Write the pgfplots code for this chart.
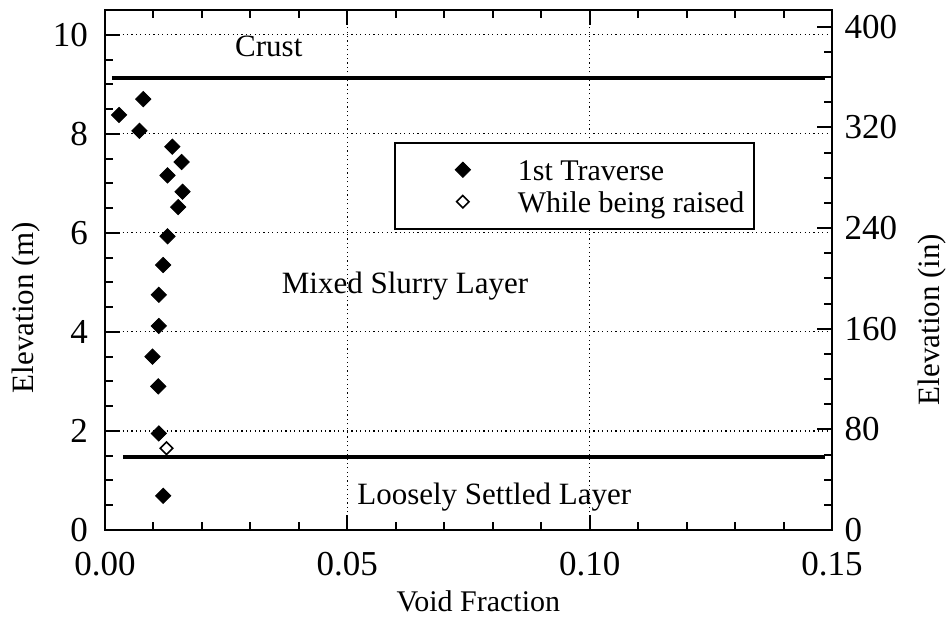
\documentclass[border=0pt]{standalone}
\usepackage{fontspec}
\setmainfont{Liberation Serif}
\usepackage{pgfplots}
\pgfplotsset{compat=1.18}

\pgfplotsset{
  voidaxis/.style={
    width=363.5pt, height=260pt, scale only axis,
    at={(0pt,0pt)}, anchor=south west,
    ymin=0, 
    axis line style={line width=1pt},
    every tick/.style={black, line width=1pt},
    tick align=inside,
    major tick length=7.5pt, minor tick length=4pt,
    /pgf/number format/assume math mode=true,
    tick label style={font=\fontsize{17.5}{20}\selectfont},
    label style={font=\fontsize{15.5}{18}\selectfont},
  }
}

\begin{document}
\begin{tikzpicture}
\useasboundingbox (-52.5pt,-47pt) rectangle (420.5pt,265pt);

% left axis: metres
\begin{axis}[voidaxis,
    xmin=0, xmax=0.15, ymax=10.5,
    xtick={0,0.05,0.10,0.15},
    xticklabels={0.00,0.05,0.10,0.15},
    minor x tick num=4,
    ytick={0,2,4,6,8,10},
    minor y tick num=3,
    xtick pos=both, ytick pos=left,
    xticklabel style={yshift=-7.5pt},
    yticklabel style={xshift=-5pt},
    grid=major,
    major grid style={black, line width=0.6pt, dash pattern=on 0.6pt off 1.6pt},
    xlabel={Void Fraction},
    xlabel style={at={(axis description cs:0.5135,0)}, anchor=base, yshift=-41pt,
      font=\fontsize{15}{18}\selectfont},
    ylabel={Elevation (m)},
    ylabel style={at={(axis description cs:-0.108,0.428)}, anchor=center},
    legend style={at={(axis cs:0.0596,7.84)}, anchor=north west,
      draw=black, line width=1pt, inner xsep=5pt, inner ysep=6pt,
      row sep=1pt, column sep=0pt,
      font=\fontsize{15}{18}\selectfont,
      nodes={inner sep=0pt, text height=13pt, text depth=2pt}},
    legend cell align=left,
    legend image code/.code={
      \path[draw=none] (-29pt,0pt) -- (27.5pt,0pt);
      \draw[#1, only marks] plot coordinates {(0pt,0pt)};
    },
  ]

  \addplot[only marks, mark=square*, mark size=2.7pt,
    mark options={rotate=45, fill=black, draw=black, line width=0.4pt}]
    coordinates {
      (0.0029,8.38) (0.0079,8.70) (0.0071,8.06)
      (0.0139,7.74) (0.0158,7.43) (0.0129,7.16)
      (0.0160,6.83) (0.0151,6.52) (0.0129,5.93)
      (0.0120,5.35) (0.0111,4.75) (0.0111,4.12)
      (0.0098,3.50) (0.0110,2.90) (0.0111,1.95)
      (0.0120,0.69)
    };
  \addlegendentry{1st Traverse}

  \addplot[only marks, mark=square, mark size=2.2pt,
    mark options={rotate=45, fill=white, draw=black, line width=0.8pt}]
    coordinates {(0.0127,1.65)};
  \addlegendentry{While being raised}

  % layer boundaries
  \addplot[black, line width=2pt, forget plot] coordinates {(0.0014,9.12) (0.1485,9.12)};
  \addplot[black, line width=2pt, forget plot] coordinates {(0.0037,1.48) (0.1485,1.48)};

  \node[font=\fontsize{15.5}{18}\selectfont] at (axis cs:0.0338,9.76) {Crust};
  \node[font=\fontsize{15.5}{18}\selectfont] at (axis cs:0.0619,4.93) {Mixed Slurry Layer};
  \node[font=\fontsize{15.5}{18}\selectfont] at (axis cs:0.0803,0.67) {Loosely Settled Layer};
\end{axis}

% right axis: inches
\begin{axis}[voidaxis,
    xmin=0, xmax=0.15, ymax=413.39,
    axis x line=none, axis y line*=right,
    ytick={0,80,160,240,320,400},
    minor y tick num=3,
    yticklabel style={xshift=2.8pt},
    ylabel={Elevation (in)},
    ylabel style={at={(axis description cs:1.1376,0.405)}, anchor=center},
  ]
  \addplot[draw=none, forget plot] coordinates {(0,0) (0.15,413.39)};
\end{axis}
\end{tikzpicture}
\end{document}
